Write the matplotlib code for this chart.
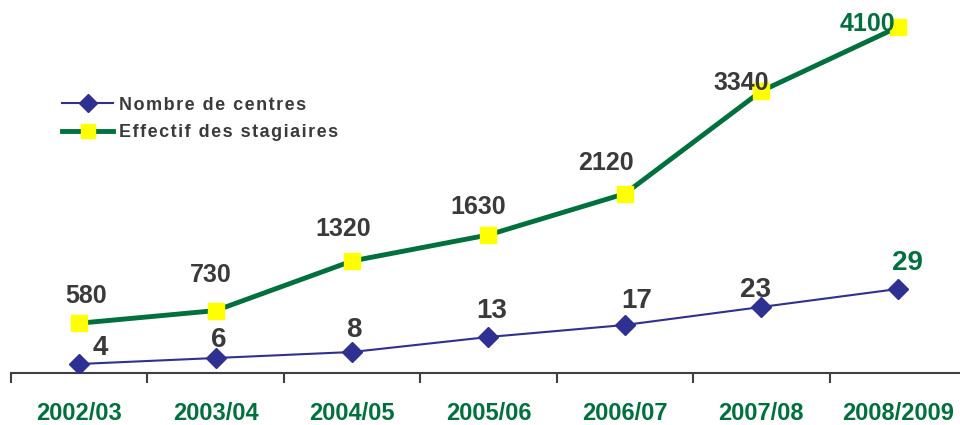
import matplotlib.pyplot as plt
from matplotlib.lines import Line2D

plt.rcParams['font.family'] = ['Liberation Sans', 'DejaVu Sans']

years = ['2002/03', '2003/04', '2004/05', '2005/06', '2006/07', '2007/08', '2008/2009']
centres = [4, 6, 8, 13, 17, 23, 29]
stagiaires = [580, 730, 1320, 1630, 2120, 3340, 4100]

# label offsets in pixels
off_c = [(21, 16), (3, 18), (2, 22), (3, 26), (12, 24), (-6, 17), (10, 26)]
off_s = [(7, 27), (-5, 36), (-9, 32), (-10, 28), (-19, 31), (-20, 8), (-30, 3)]

blue = '#2E3192'
green = '#00703C'
grey = '#3A3A3A'

fig = plt.figure(figsize=(9.6, 4.25), dpi=100)
ax = fig.add_axes([11 / 960, 1 - 373 / 425, 955 / 960, 373 / 425])
ax2 = ax.twinx()

x = list(range(len(years)))
ax.plot(x, centres, color=blue, lw=1.5, marker='D', ms=10, mfc=blue, mec=blue, zorder=3)
ax2.plot(x, stagiaires, color=green, lw=3.5, marker='s', ms=11, mfc='#FFFF00', mec='#FFFF00', zorder=3)

ax.set_xlim(-0.5, len(years) - 0.5)
ax.set_ylim(1, 125.3)
ax2.set_ylim(-12, 4423)

for i, v in enumerate(centres):
    last = i == len(centres) - 1
    ax.annotate(str(v), (i, v), xytext=off_c[i], textcoords='offset pixels',
                ha='center', va='center', fontsize=20, fontweight='bold',
                color=green if last else grey)
for i, v in enumerate(stagiaires):
    last = i == len(stagiaires) - 1
    ax2.annotate(str(v), (i, v), xytext=off_s[i], textcoords='offset pixels',
                 ha='center', va='center', fontsize=18, fontweight='bold',
                 color=green if last else grey)

for a in (ax, ax2):
    for s in ('top', 'right', 'left'):
        a.spines[s].set_visible(False)
    a.set_yticks([])
ax2.spines['bottom'].set_visible(False)
ax.spines['bottom'].set_color('#404040')
ax.spines['bottom'].set_linewidth(1.5)

ax.set_xticks([i - 0.5 for i in range(len(years) + 1)])
ax.set_xticklabels([])
ax.tick_params(axis='x', which='major', direction='out', length=7, width=1.5, color='#404040')
ax.set_xticks(x, minor=True)
ax.set_xticklabels(years, minor=True, fontsize=17, fontweight='bold', color=green)
ax.tick_params(axis='x', which='minor', length=0, pad=21)

handles = [
    Line2D([], [], color=blue, lw=1.5, marker='D', ms=9, mfc=blue, mec=blue),
    Line2D([], [], color=green, lw=3.5, marker='s', ms=10, mfc='#FFFF00', mec='#FFFF00'),
]
labels = ['\u200a'.join('Nombre de centres'), '\u200a'.join('Effectif des stagiaires')]
leg = fig.legend(handles, labels, loc='center left', bbox_to_anchor=(62 / 960, 1 - 119 / 425),
                 frameon=False, handlelength=2.85, handletextpad=0.3, labelspacing=0.6,
                 borderpad=0, borderaxespad=0, prop={'size': 13, 'weight': 'bold'})
for t in leg.get_texts():
    t.set_color(grey)

fig.savefig('out.png', dpi=100)
